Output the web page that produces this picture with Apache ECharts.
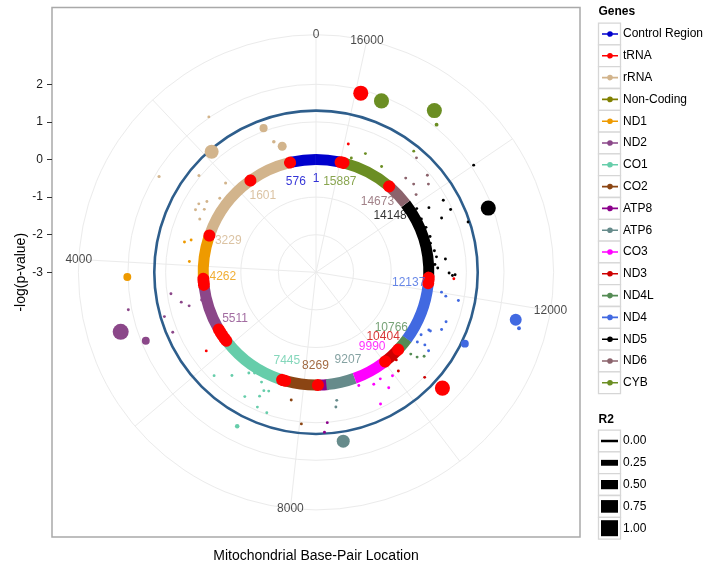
<!DOCTYPE html>
<html><head><meta charset="utf-8">
<script src="https://cdn.jsdelivr.net/npm/echarts@6/dist/echarts.min.js"></script>
<style>html,body{margin:0;padding:0;background:#fff}#c{width:710px;height:567px}</style>
</head><body><div id="c"></div>
<script>
// ---------------- data ----------------
const genomeLength = 16569;
const geneNames = ['Control Region','tRNA','rRNA','Non-Coding','ND1','ND2','CO1','CO2','ATP8','ATP6','CO3','ND3','ND4L','ND4','ND5','ND6','CYB'];
const geneColors = ['#0000CD','#FF0000','#D2B48C','#808000','#EE9A00','#8B4789','#66CDAA','#8B4513','#8B008B','#668B8B','#FF00FF','#CD0000','#548B54','#4169E1','#000000','#8B636C','#6B8E23'];

// gene ring segments
const ringStart = [16024, 1, 648, 1671, 3307, 4470, 5730, 5904, 7586, 8270, 8366, 8527, 9207, 10059, 10470, 10760, 12337, 14149, 14747];
const ringEnd   = [16569, 576, 1601, 3229, 4262, 5511, 5760, 7445, 8269, 8294, 8572, 9207, 9990, 10404, 10766, 12137, 14148, 14673, 15887];
const ringGene  = ['Control Region','Control Region','rRNA','rRNA','ND1','ND2','Non-Coding','CO1','CO2','Non-Coding','ATP8','ATP6','CO3','ND3','ND4L','ND4','ND5','ND6','CYB'];

// tRNA segments
const trnaStart = [577, 1602, 3230, 4263, 4329, 4402, 5512, 5587, 5657, 5761, 5826, 7446, 7518, 8295, 9991, 10405, 12138, 12207, 12266, 14674, 15888, 15956];
const trnaEnd   = [647, 1670, 3304, 4331, 4400, 4469, 5579, 5655, 5729, 5826, 5891, 7514, 7585, 8364, 10058, 10469, 12206, 12265, 12336, 14742, 15953, 16023];

// gene boundary labels
const labelPos  = [576, 1, 1601, 3229, 4262, 5511, 7445, 8269, 9207, 9990, 10404, 10766, 12137, 14148, 14673, 15887];
const labelGene = ['Control Region','Control Region','rRNA','rRNA','ND1','ND2','CO1','CO2','ATP6','CO3','ND3','ND4L','ND4','ND5','ND6','CYB'];

// SNPs: position, -log(p-value), R2, gene
const snpPos = [
  1592, 920, 824, 691, 1882, 2697, 2320, 2087, 2412, 2748, 2623, 2881, 2789, 3010,
  3544, 3475, 3917, 4208,
  4529, 4717, 4824, 4892, 4662, 5187, 4922, 5151, 4770,
  5781, 10471, 12302, 15923, 15919,
  6232, 6482, 6734, 6840, 7070, 7190, 7286, 6913, 7157, 7203, 7396, 7037,
  7779, 8031,
  8482, 8424,
  8708, 8671, 8706,
  9716, 9964, 9541, 9766, 9486, 9237,
  10117, 10400, 10241,
  10549, 10586, 10686,
  12013, 11948, 11912, 11470, 11300, 11180, 11175, 11014, 10839, 10876, 10821, 11811, 11718, 11248,
  12519, 12412, 12366, 12380, 12763, 12697, 14001, 13785, 13798, 13577, 13504, 13268, 13368, 13913, 13661, 13085, 12600, 12900, 13230, 13450,
  14669, 14562, 14364, 14318, 14181, 14167,
  15607, 14903, 14763, 15778, 15529, 15105, 14779
];
const snpLogP = [
  2.02, 1.08, 0.65, 0.47, 1.24, 1.89, 1.04, 0.38, 0.23, 0.61, 0.46, 0.61, 0.41, 0.40,
  0.59, 0.43, 0.38, 2.02,
  0.90, 0.67, 0.49, 1.20, 2.09, 1.13, 2.43, 1.88, 0.13,
  0.59, 1.56, 0.67, 1.91, 0.52,
  0.86, 0.54, 0.22, 0.14, 0.26, 0.44, 0.40, 0.81, 0.62, 0.91, 0.96, 1.60,
  0.46, 1.05,
  1.01, 1.26,
  0.45, 0.62, 1.55,
  0.31, 0.42, 0.35, 0.63, 0.90, 0.22,
  0.42, 1.02, 0.16,
  0.33, 0.51, 0.64,
  0.38, 0.51, 0.86, 0.70, 0.67, 0.37, 0.42, 0.25, 0.27, 0.48, 0.65, 2.46, 2.60, 1.39,
  0.24, 0.54, 0.63, 0.70, 0.23, 0.46, 2.07, 0.89, 0.46, 0.95, 0.64, 1.26, 1.89, 0.17, 0.14, 0.14, 0.17, 0.20, 0.18, 0.16,
  1.05, 0.46, 0.50, 0.93, 0.80, 0.37,
  1.88, 2.33, 2.07, 0.18, 0.42, 0.31, 1.14
];
const snpR2 = [
  0.03, 0.41, 0.08, 0.48, 0.85, 0.05, 0.04, 0.04, 0.03, 0.03, 0.03, 0.03, 0.03, 0.04,
  0.03, 0.03, 0.03, 0.40,
  0.03, 0.03, 0.03, 0.03, 0.03, 0.03, 1.00, 0.40, 0.03,
  0.03, 0.93, 0.03, 0.93, 0.03,
  0.03, 0.03, 0.03, 0.03, 0.03, 0.03, 0.03, 0.03, 0.03, 0.03, 0.03, 0.15,
  0.03, 0.03,
  0.03, 0.03,
  0.03, 0.03, 0.78,
  0.03, 0.03, 0.03, 0.03, 0.03, 0.03,
  0.03, 0.03, 0.03,
  0.03, 0.03, 0.03,
  0.03, 0.03, 0.03, 0.03, 0.03, 0.03, 0.03, 0.03, 0.03, 0.03, 0.03, 0.70, 0.10, 0.40,
  0.03, 0.03, 0.03, 0.03, 0.03, 0.03, 0.03, 0.03, 0.03, 0.03, 0.03, 0.03, 0.93, 0.03, 0.03, 0.03, 0.03, 0.03, 0.03, 0.03,
  0.03, 0.03, 0.03, 0.03, 0.03, 0.03,
  0.93, 0.93, 0.10, 0.03, 0.03, 0.03, 0.03
];
const snpGene = [].concat(
  Array(14).fill('rRNA'), Array(4).fill('ND1'), Array(9).fill('ND2'), Array(5).fill('tRNA'),
  Array(12).fill('CO1'), Array(2).fill('CO2'), Array(2).fill('ATP8'), Array(3).fill('ATP6'),
  Array(6).fill('CO3'), Array(3).fill('ND3'), Array(3).fill('ND4L'), Array(14).fill('ND4'),
  Array(20).fill('ND5'), Array(6).fill('ND6'), Array(7).fill('CYB')
);

const radialTicks = [-3, -2, -1, 0, 1, 2];
const angleTickStep = 2000;
const angleLabels = [0, 4000, 8000, 12000, 16000];
const significance = -Math.log10(0.05);
const r2Levels = [0, 0.25, 0.5, 0.75, 1];

// ---------------- layout ----------------
const FONT = 'Liberation Sans, Arial, Helvetica, sans-serif';
const CX = 316, CY = 272.3, POLAR_R = 237.6;
const rMin = -3, rTop = 2.617;
const rAxisMax = rMin + (rTop - rMin) * 0.45 / 0.4;
const pxPerUnit = POLAR_R / (rAxisMax - rMin);
const gridTop = 7.5, gridBottomY = 537, gridLeft = 52, gridRightX = 580;
const yMax = rMin + (CY - gridTop) / pxPerUnit;
const yMin = rMin - (gridBottomY - CY) / pxPerUnit;
const ringLevel = 0, labelLevel = -0.52;
const colorOf = g => geneColors[geneNames.indexOf(g)];
const sizeOf = r2 => 2.5 + 13.5 * r2;

function polarAngle(api, cs, pos) { const p = api.coord([0, pos]); return Math.atan2(p[1] - cs.cy, p[0] - cs.cx); }
function polarRadius(api, cs, v) { const p = api.coord([v, 0]); return Math.hypot(p[0] - cs.cx, p[1] - cs.cy); }
function angSpan(a2, a1) { let d = a1 - a2; while (d < 0) d += 2 * Math.PI; return d; }

function arcSeries(name, starts, ends, colorFn, width, cap, shrinkPx) {
  return {
    type: 'custom', name: name, coordinateSystem: 'polar', silent: true,
    data: starts.map((s, i) => [s, ends[i], i]),
    renderItem: function (params, api) {
      const cs = params.coordSys;
      const s = api.value(0), e = api.value(1), i = api.value(2);
      const r = polarRadius(api, cs, ringLevel);
      let a1 = polarAngle(api, cs, s), a2 = polarAngle(api, cs, e);
      if (shrinkPx) {
        const span = angSpan(a2, a1);
        const sh = Math.min(shrinkPx / r, span / 2 - 0.0005);
        a2 += sh; a1 -= sh;
      }
      return { type: 'arc', shape: { cx: cs.cx, cy: cs.cy, r: r, startAngle: a2, endAngle: a1, clockwise: true },
        style: { stroke: colorFn(i), lineWidth: width, fill: 'none', lineCap: cap } };
    }
  };
}
function circleSeries(name, values, color, width) {
  return {
    type: 'custom', name: name, coordinateSystem: 'polar', silent: true,
    data: values.map(v => [v, 0]),
    renderItem: function (params, api) {
      const cs = params.coordSys;
      const r = polarRadius(api, cs, api.value(0));
      return { type: 'circle', shape: { cx: cs.cx, cy: cs.cy, r: r }, style: { stroke: color, lineWidth: width, fill: 'none' } };
    }
  };
}

const series = [];
series.push(circleSeries('grid', radialTicks.filter(v => v > rMin), '#ebebeb', 1));
series.push(circleSeries('threshold', [significance], '#2E5E8C', 2.6));
series.push(arcSeries('ring', ringStart, ringEnd, i => colorOf(ringGene[i]), 11, 'butt', 0));
series.push(arcSeries('trna', trnaStart, trnaEnd, i => colorOf('tRNA'), 12, 'round', 2.5));
series.push({
  type: 'scatter', name: 'thetaLabels', coordinateSystem: 'polar', silent: true, clip: false,
  symbolSize: 0.1, itemStyle: { color: 'rgba(0,0,0,0)' },
  data: angleLabels.map(v => ({ name: String(v), value: [rAxisMax, v] })),
  label: { show: true, position: 'inside', formatter: '{b}', fontSize: 12, color: '#1a1a1a', fontFamily: FONT }
});
series.push({
  type: 'scatter', name: 'labels', coordinateSystem: 'polar', silent: true,
  symbolSize: 0.1, itemStyle: { color: 'rgba(0,0,0,0)' },
  data: labelPos.map((p, i) => ({ name: String(p), value: [labelLevel, p],
    label: { color: colorOf(labelGene[i]) } })),
  label: { show: true, position: 'inside', formatter: '{b}', fontSize: 12, fontFamily: FONT }
});
geneNames.forEach((g, gi) => {
  const data = [];
  snpPos.forEach((p, i) => { if (snpGene[i] === g) data.push([snpLogP[i], p, snpR2[i]]); });
  series.push({
    type: 'scatter', name: g, coordinateSystem: 'polar', data: data,
    symbol: 'circle', symbolSize: v => sizeOf(v[2]),
    itemStyle: { color: geneColors[gi], opacity: 1 },
    emphasis: { disabled: true }
  });
});

const keyIcon = 'path://M0,0L0.01,0L0.01,0.01Z M16,14L15.99,14L15.99,13.99Z M0,6.2L16,6.2L16,7.8L0,7.8Z M8,4.2A2.8,2.8 0 1 1 7.99,4.2Z';

const ROW = 21.8, BOX_X = 598.5, BOX_W = 22;
const graphics = [];
graphics.push({ type: 'text', left: BOX_X, top: 6, style: { text: 'Genes', font: 'bold 12px ' + FONT, fill: '#000' } });
geneNames.forEach((g, i) => {
  graphics.push({ type: 'rect', shape: { x: BOX_X, y: 34 - ROW / 2 + i * ROW, width: BOX_W, height: ROW },
    style: { fill: '#fff', stroke: '#d6d6d6', lineWidth: 1.3 }, z: 0 });
});
graphics.push({ type: 'text', left: BOX_X, top: 414, style: { text: 'R2', font: 'bold 12px ' + FONT, fill: '#000' } });
r2Levels.forEach((v, i) => {
  const yc = 441 + i * ROW;
  graphics.push({ type: 'rect', shape: { x: BOX_X, y: yc - ROW / 2, width: BOX_W, height: ROW },
    style: { fill: '#fff', stroke: '#d6d6d6', lineWidth: 1.3 }, z: 0 });
  const h = sizeOf(v);
  graphics.push({ type: 'rect', shape: { x: 601, y: yc - h / 2, width: 17, height: h }, style: { fill: '#000' }, z: 1 });
  graphics.push({ type: 'text', x: 623, y: yc, style: { text: v.toFixed(2), font: '12px ' + FONT, fill: '#000', verticalAlign: 'middle', align: 'left' }, z: 1 });
});

const chart = echarts.init(document.getElementById('c'), null, { renderer: 'canvas' });
chart.setOption({
  animation: false,
  backgroundColor: '#fff',
  textStyle: { fontFamily: FONT },
  grid: { left: gridLeft, top: gridTop, width: gridRightX - gridLeft, height: gridBottomY - gridTop,
    show: true, borderColor: '#a9a9a9', borderWidth: 1.5, backgroundColor: 'rgba(0,0,0,0)',
    containLabel: false, outerBoundsMode: 'none' },
  xAxis: { type: 'value', min: 0, max: 1, axisLine: { show: false }, axisTick: { show: false },
    axisLabel: { show: false }, splitLine: { show: false },
    name: 'Mitochondrial Base-Pair Location', nameLocation: 'middle', nameGap: 12, nameMoveOverlap: false,
    nameTextStyle: { fontSize: 14, color: '#000', fontFamily: FONT } },
  yAxis: { type: 'value', min: yMin, max: yMax, axisLine: { show: false },
    axisTick: { show: true, length: 5, customValues: radialTicks, lineStyle: { color: '#333', width: 1 } },
    axisLabel: { show: true, customValues: radialTicks, margin: 9, fontSize: 12, color: '#1a1a1a', fontFamily: FONT },
    splitLine: { show: false },
    name: '-log(p-value)', nameLocation: 'middle', nameGap: 24, nameRotate: 90, nameMoveOverlap: false,
    nameTextStyle: { fontSize: 14, color: '#000', fontFamily: FONT } },
  polar: { center: [CX, CY], radius: POLAR_R },
  angleAxis: { type: 'value', min: 0, max: genomeLength, interval: angleTickStep, startAngle: 90, clockwise: false,
    axisLine: { show: true, lineStyle: { color: '#ebebeb', width: 1 } },
    axisTick: { show: false },
    splitLine: { show: true, lineStyle: { color: '#ebebeb', width: 1 } },
    axisLabel: { show: false } },
  radiusAxis: { type: 'value', min: rMin, max: rAxisMax, axisLine: { show: false }, axisTick: { show: false },
    axisLabel: { show: false }, splitLine: { show: false } },
  legend: { orient: 'vertical', left: 602, top: 27, padding: 0, itemWidth: 16, itemHeight: 14, itemGap: ROW - 14,
    selectedMode: false, data: geneNames.map(n => ({ name: n, icon: keyIcon })),
    textStyle: { fontSize: 12, color: '#000', lineHeight: 14, fontFamily: FONT } },
  graphic: graphics,
  series: series
});
</script></body></html>
